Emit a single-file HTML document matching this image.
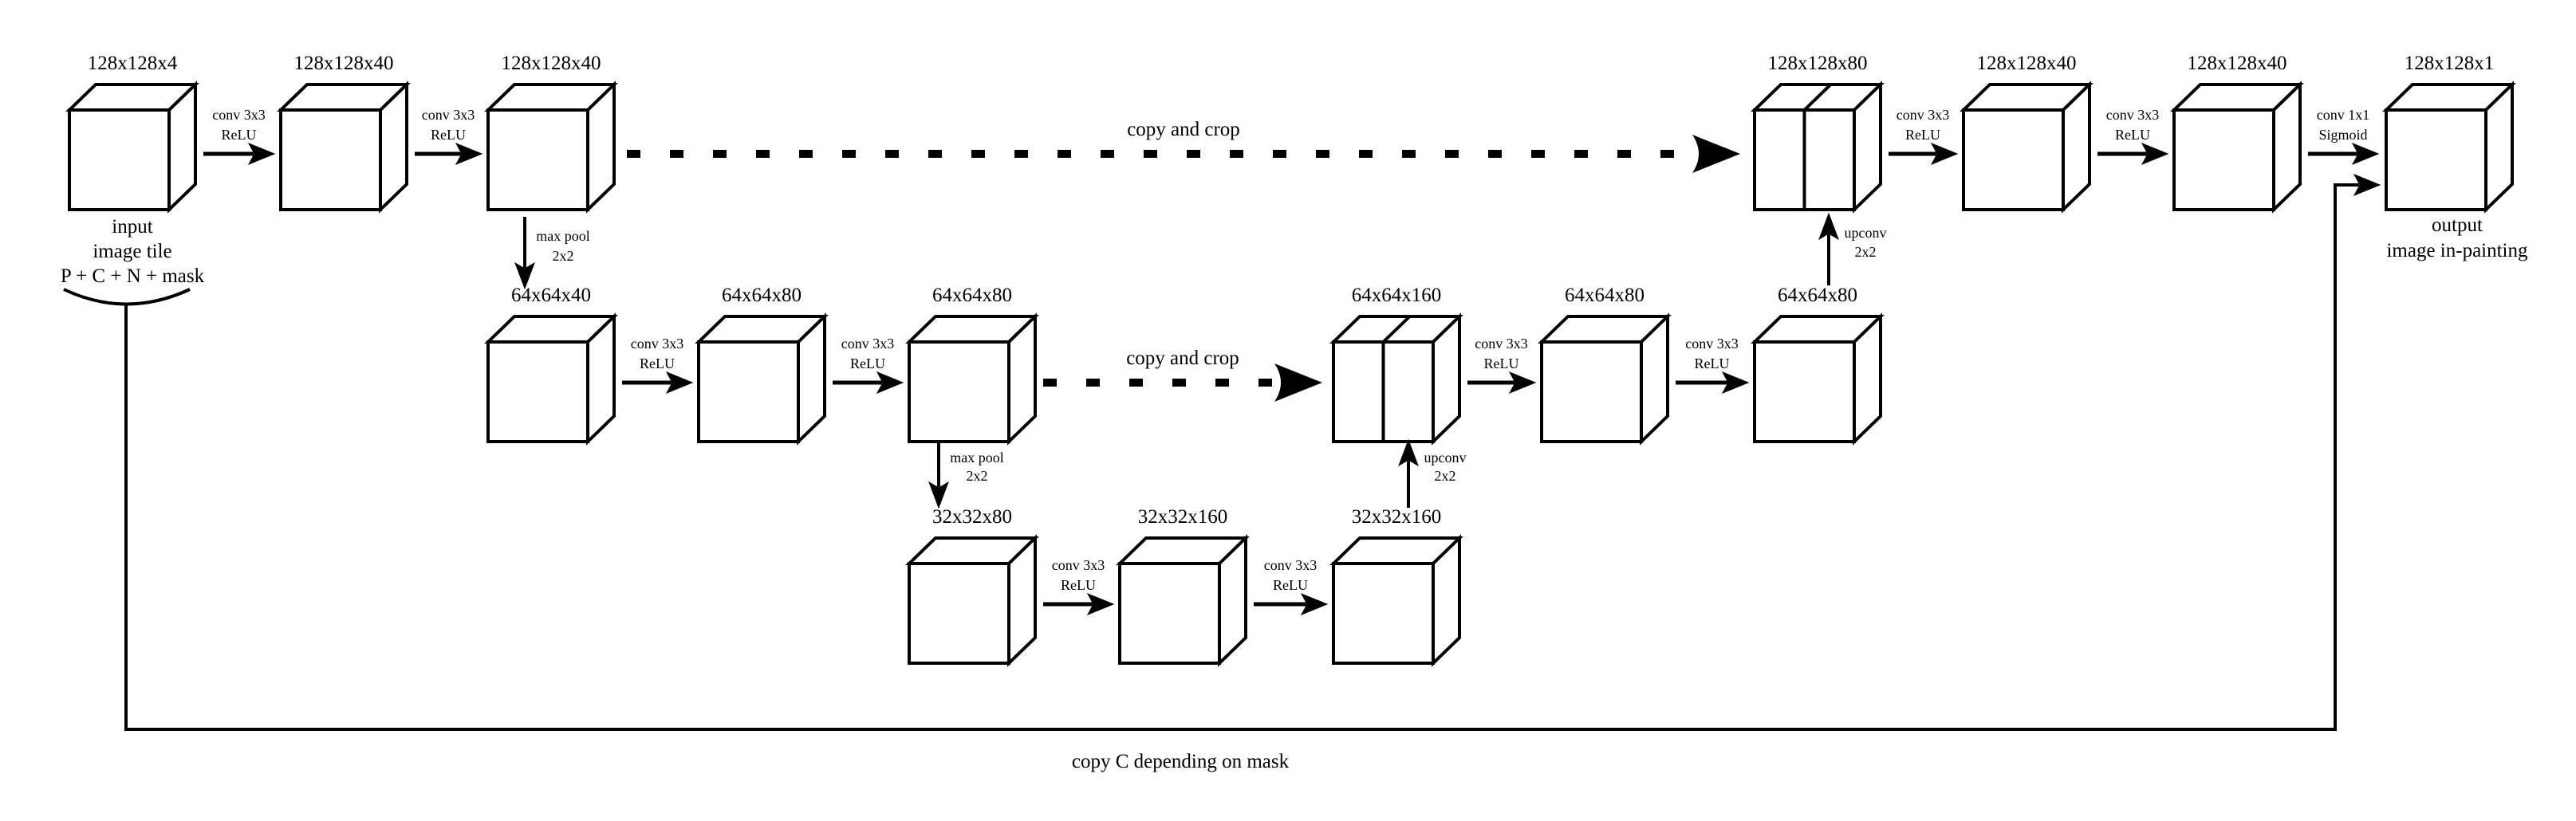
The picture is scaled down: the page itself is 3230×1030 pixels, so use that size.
<!DOCTYPE html>
<html><head><meta charset="utf-8"><style>
html,body{margin:0;padding:0;background:#fff;}
svg{display:block;}
svg text{font-family:"Liberation Serif","DejaVu Serif",serif !important;}
</style></head><body>
<svg id="s" width="3230" height="1030" viewBox="0 0 3230 1030" xmlns="http://www.w3.org/2000/svg">
<g id="g" fill="none" stroke="#000" stroke-width="4" stroke-linejoin="miter"></g>
<g id="t" fill="#000" text-anchor="middle"></g>
</svg>
<script>
var g=document.getElementById('g'),t=document.getElementById('t');
var NS='http://www.w3.org/2000/svg';
function el(p,tag,a){var e=document.createElementNS(NS,tag);for(var k in a)e.setAttribute(k,a[k]);p.appendChild(e);return e;}
function tx(x,y,s,c){var e=el(t,'text',{x:x,y:y,'font-size':(c=='b'?25:18),style:'font-family:"Liberation Serif","DejaVu Serif",serif'});e.textContent=s;}
var W=125,H=125,DX=33,DY=32;
function box(x,y,div){
 el(g,'rect',{x:x,y:y,width:W,height:H,fill:'#fff'});
 el(g,'path',{d:'M'+x+','+y+' L'+(x+DX)+','+(y-DY)+' L'+(x+W+DX)+','+(y-DY)+' L'+(x+W)+','+y+' Z',fill:'#fff'});
 el(g,'path',{d:'M'+(x+W)+','+y+' L'+(x+W+DX)+','+(y-DY)+' L'+(x+W+DX)+','+(y+H-DY)+' L'+(x+W)+','+(y+H)+' Z',fill:'#fff'});
 if(div){var m=x+W/2;el(g,'line',{x1:m,y1:y,x2:m,y2:y+H});el(g,'line',{x1:m,y1:y,x2:m+DX,y2:y-DY});}
}
function harrow(x1,x2,y){el(g,'line',{x1:x1,y1:y,x2:x2-26,y2:y,'stroke-width':5});
 el(g,'path',{d:'M'+x2+','+y+' L'+(x2-32)+','+(y-13)+' L'+(x2-25)+','+y+' L'+(x2-32)+','+(y+13)+' Z',fill:'#000','stroke-width':1});}
function varrow(x,y1,y2){var d=y2>y1?1:-1;el(g,'line',{x1:x,y1:y1,x2:x,y2:y2-d*26,'stroke-width':4});
 el(g,'path',{d:'M'+x+','+y2+' L'+(x-12)+','+(y2-d*32)+' L'+x+','+(y2-d*25)+' L'+(x+12)+','+(y2-d*32)+' Z',fill:'#000','stroke-width':1});}
function conv(xa,xb,y,l1,l2){harrow(xa,xb,y);var m=(xa+xb)/2;tx(m,y-43,l1,'s');tx(m,y-18,l2||'ReLU','s');}
function dashed(x1,x2,y,lab){for(var x=x1;x+17<=x2-62;x+=54)el(g,'rect',{x:x,y:y-5,width:17,height:10,fill:'#000',stroke:'none'});
 var h=x2-60;el(g,'path',{d:'M'+h+','+(y-24)+' Q'+(h+16)+','+y+' '+h+','+(y+24)+' L'+x2+','+y+' Z',fill:'#000',stroke:'none'});
 tx((x1+x2)/2,y-23,lab,'b');}
var R1=138,R2=429,R3=707;
var c=[87,352,612,876,1140,1404,1672,1933,2200,2462,2726,2992];
function lab(x,y,s){tx(x+(W+DX)/2,y-DY-19,s,'b');}
box(c[0],R1);box(c[1],R1);box(c[2],R1);box(c[8],R1,1);box(c[9],R1);box(c[10],R1);box(c[11],R1);
lab(c[0],R1,'128x128x4');lab(c[1],R1,'128x128x40');lab(c[2],R1,'128x128x40');lab(c[8],R1,'128x128x80');lab(c[9],R1,'128x128x40');lab(c[10],R1,'128x128x40');lab(c[11],R1,'128x128x1');
conv(c[0]+168,c[1]-8,193,'conv 3x3');conv(c[1]+168,c[2]-8,193,'conv 3x3');
conv(c[8]+168,c[9]-8,193,'conv 3x3');conv(c[9]+168,c[10]-8,193,'conv 3x3');conv(c[10]+168,c[11]-10,193,'conv 1x1','Sigmoid');
dashed(786,2182,193,'copy and crop');
box(c[2],R2);box(c[3],R2);box(c[4],R2);box(c[6],R2,1);box(c[7],R2);box(c[8],R2);
lab(c[2],R2,'64x64x40');lab(c[3],R2,'64x64x80');lab(c[4],R2,'64x64x80');lab(c[6],R2,'64x64x160');lab(c[7],R2,'64x64x80');lab(c[8],R2,'64x64x80');
conv(c[2]+168,c[3]-8,480,'conv 3x3');conv(c[3]+168,c[4]-8,480,'conv 3x3');
conv(c[6]+168,c[7]-8,480,'conv 3x3');conv(c[7]+168,c[8]-8,480,'conv 3x3');
dashed(1308,1658,480,'copy and crop');
box(c[4],R3);box(c[5],R3);box(c[6],R3);
lab(c[4],R3,'32x32x80');lab(c[5],R3,'32x32x160');lab(c[6],R3,'32x32x160');
conv(c[4]+168,c[5]-8,758,'conv 3x3');conv(c[5]+168,c[6]-8,758,'conv 3x3');
varrow(658,272,362);tx(706,302,'max pool','s');tx(706,327,'2x2','s');
varrow(1177,552,637);tx(1225,580,'max pool','s');tx(1225,603,'2x2','s');
varrow(1766,637,552);tx(1812,580,'upconv','s');tx(1812,603,'2x2','s');
varrow(2293,358,268);tx(2339,298,'upconv','s');tx(2339,322,'2x2','s');
tx(166,292,'input','b');tx(166,323,'image tile','b');tx(166,354,'P + C + N + mask','b');
tx(3081,290,'output','b');tx(3081,322,'image in-painting','b');
el(g,'path',{d:'M80,363 Q158,400 238,363'});
el(g,'path',{d:'M158,382 L158,915 L2928,915 L2928,232 L2958,232'});
el(g,'path',{d:'M2984,232 L2952,219 L2959,232 L2952,245 Z',fill:'#000','stroke-width':1});
tx(1480,963,'copy C depending on mask','b');
</script>
</body></html>
